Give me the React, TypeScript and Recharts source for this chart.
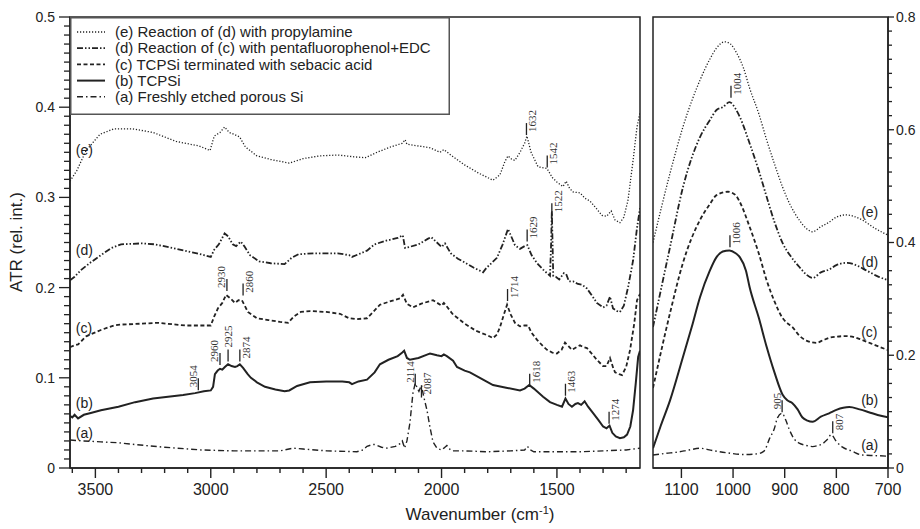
import { LineChart, Line, XAxis, YAxis, ReferenceArea, ReferenceDot } from 'recharts';

type Pt = [number, number];

// wavenumber (cm-1), ATR — left window
const leftE: Pt[] = [
  [3610, 0.318], [3580, 0.33], [3540, 0.352], [3480, 0.37], [3420, 0.376], [3340, 0.376], [3250, 0.372],
  [3150, 0.362], [3050, 0.357], [3003, 0.352], [2985, 0.368], [2960, 0.372], [2940, 0.378], [2920, 0.372],
  [2900, 0.37], [2875, 0.367], [2850, 0.356], [2800, 0.346], [2740, 0.342], [2660, 0.338], [2600, 0.343],
  [2530, 0.346], [2450, 0.347], [2380, 0.345], [2330, 0.344], [2280, 0.35], [2220, 0.356], [2170, 0.36],
  [2158, 0.364], [2150, 0.359], [2100, 0.357], [2050, 0.355], [2007, 0.35], [1990, 0.353], [1960, 0.347],
  [1900, 0.336], [1840, 0.327], [1777, 0.319], [1747, 0.325], [1725, 0.34], [1712, 0.346], [1695, 0.342],
  [1682, 0.341], [1660, 0.35], [1640, 0.36], [1630, 0.368], [1612, 0.35], [1595, 0.341], [1582, 0.334],
  [1543, 0.332], [1520, 0.322], [1500, 0.317], [1474, 0.312], [1460, 0.318], [1445, 0.31], [1430, 0.306],
  [1400, 0.305], [1378, 0.299], [1357, 0.296], [1330, 0.288], [1305, 0.28], [1285, 0.279], [1265, 0.285],
  [1248, 0.275], [1227, 0.272], [1210, 0.278], [1192, 0.297], [1170, 0.341], [1153, 0.378], [1140, 0.394],
];

const leftD: Pt[] = [
  [3610, 0.208], [3590, 0.212], [3560, 0.22], [3520, 0.228], [3476, 0.236], [3430, 0.244], [3389, 0.248],
  [3300, 0.249], [3242, 0.248], [3150, 0.243], [3060, 0.238], [3000, 0.234], [2985, 0.242], [2965, 0.248],
  [2940, 0.26], [2925, 0.257], [2905, 0.248], [2890, 0.246], [2870, 0.251], [2855, 0.246], [2830, 0.236],
  [2790, 0.229], [2740, 0.227], [2680, 0.226], [2650, 0.233], [2620, 0.237], [2550, 0.238], [2450, 0.238],
  [2400, 0.236], [2388, 0.234], [2350, 0.238], [2323, 0.241], [2290, 0.248], [2240, 0.252], [2190, 0.255],
  [2168, 0.258], [2158, 0.244], [2140, 0.245], [2100, 0.248], [2060, 0.254], [2045, 0.256], [2020, 0.25],
  [2000, 0.245], [1985, 0.249], [1960, 0.238], [1929, 0.232], [1900, 0.228], [1860, 0.222], [1820, 0.217],
  [1805, 0.222], [1780, 0.228], [1760, 0.233], [1735, 0.248], [1712, 0.265], [1695, 0.255], [1682, 0.247],
  [1660, 0.243], [1640, 0.246], [1628, 0.247], [1610, 0.236], [1586, 0.227], [1560, 0.22], [1543, 0.216],
  [1530, 0.213], [1525, 0.25], [1522, 0.285], [1519, 0.25], [1516, 0.213], [1505, 0.212], [1490, 0.209],
  [1470, 0.216], [1460, 0.215], [1448, 0.207], [1430, 0.207], [1409, 0.204], [1390, 0.203], [1370, 0.199],
  [1345, 0.19], [1327, 0.183], [1300, 0.178], [1285, 0.18], [1270, 0.19], [1257, 0.177], [1240, 0.174],
  [1227, 0.173], [1210, 0.18], [1192, 0.2], [1170, 0.23], [1153, 0.266], [1140, 0.288],
];

const leftC: Pt[] = [
  [3610, 0.134], [3590, 0.136], [3575, 0.137], [3540, 0.146], [3476, 0.153], [3420, 0.158], [3389, 0.159],
  [3300, 0.16], [3229, 0.161], [3150, 0.159], [3112, 0.158], [3000, 0.158], [2985, 0.168], [2969, 0.177],
  [2950, 0.183], [2934, 0.192], [2915, 0.188], [2895, 0.183], [2880, 0.186], [2865, 0.186], [2839, 0.173],
  [2800, 0.166], [2750, 0.164], [2700, 0.162], [2665, 0.161], [2640, 0.168], [2610, 0.173], [2570, 0.174],
  [2500, 0.173], [2440, 0.171], [2400, 0.166], [2370, 0.165], [2323, 0.166], [2300, 0.172], [2267, 0.181],
  [2220, 0.185], [2180, 0.188], [2167, 0.192], [2150, 0.182], [2124, 0.178], [2090, 0.182], [2050, 0.185],
  [2037, 0.186], [2000, 0.18], [1990, 0.183], [1977, 0.179], [1950, 0.17], [1929, 0.166], [1900, 0.16],
  [1850, 0.152], [1800, 0.147], [1777, 0.144], [1760, 0.148], [1747, 0.156], [1730, 0.17], [1716, 0.181],
  [1700, 0.17], [1682, 0.161], [1660, 0.157], [1640, 0.158], [1625, 0.158], [1610, 0.15], [1586, 0.142],
  [1560, 0.135], [1543, 0.131], [1520, 0.128], [1500, 0.127], [1480, 0.131], [1465, 0.139], [1450, 0.135],
  [1435, 0.131], [1415, 0.134], [1400, 0.136], [1385, 0.134], [1370, 0.133], [1350, 0.127], [1327, 0.12],
  [1300, 0.113], [1285, 0.113], [1270, 0.122], [1255, 0.11], [1248, 0.106], [1230, 0.104], [1218, 0.103],
  [1200, 0.112], [1183, 0.131], [1165, 0.16], [1153, 0.186], [1140, 0.193],
];

const leftB: Pt[] = [
  [3610, 0.058], [3600, 0.056], [3590, 0.059], [3575, 0.055], [3550, 0.059], [3520, 0.061], [3476, 0.064],
  [3400, 0.068], [3328, 0.073], [3250, 0.077], [3185, 0.079], [3120, 0.081], [3068, 0.083], [3030, 0.085],
  [3000, 0.086], [2990, 0.09], [2982, 0.104], [2970, 0.108], [2960, 0.11], [2950, 0.109], [2939, 0.112],
  [2925, 0.115], [2910, 0.113], [2895, 0.112], [2885, 0.113], [2874, 0.115], [2860, 0.111], [2840, 0.104],
  [2826, 0.1], [2800, 0.095], [2765, 0.09], [2720, 0.087], [2680, 0.085], [2660, 0.086], [2626, 0.091],
  [2570, 0.095], [2500, 0.096], [2430, 0.096], [2400, 0.095], [2388, 0.093], [2360, 0.096], [2323, 0.098],
  [2290, 0.106], [2267, 0.115], [2230, 0.12], [2190, 0.124], [2170, 0.128], [2162, 0.13], [2150, 0.122],
  [2137, 0.12], [2100, 0.122], [2060, 0.126], [2050, 0.127], [2020, 0.125], [2000, 0.124], [1990, 0.126],
  [1977, 0.124], [1950, 0.119], [1933, 0.112], [1900, 0.108], [1877, 0.106], [1820, 0.098], [1777, 0.092],
  [1720, 0.089], [1660, 0.086], [1640, 0.088], [1620, 0.092], [1600, 0.088], [1560, 0.079], [1530, 0.073],
  [1500, 0.07], [1478, 0.068], [1463, 0.077], [1450, 0.071], [1435, 0.068], [1420, 0.071], [1409, 0.072],
  [1395, 0.07], [1380, 0.074], [1365, 0.068], [1344, 0.061], [1320, 0.053], [1300, 0.046], [1285, 0.044],
  [1272, 0.047], [1260, 0.039], [1245, 0.035], [1227, 0.033], [1210, 0.034], [1196, 0.037], [1182, 0.046],
  [1170, 0.064], [1158, 0.095], [1148, 0.123], [1140, 0.13],
];

const leftA: Pt[] = [
  [3610, 0.031], [3550, 0.03], [3476, 0.029], [3400, 0.028], [3328, 0.026], [3200, 0.023], [3042, 0.02],
  [2900, 0.019], [2787, 0.019], [2700, 0.019], [2643, 0.022], [2600, 0.021], [2497, 0.019], [2367, 0.018],
  [2340, 0.02], [2323, 0.024], [2300, 0.026], [2288, 0.026], [2260, 0.023], [2236, 0.022], [2200, 0.024],
  [2180, 0.027], [2170, 0.03], [2160, 0.022], [2150, 0.03], [2137, 0.05], [2124, 0.083], [2114, 0.094],
  [2104, 0.088], [2098, 0.085], [2087, 0.092], [2078, 0.08], [2063, 0.064], [2050, 0.045], [2037, 0.029],
  [2020, 0.022], [2000, 0.02], [1990, 0.022], [1977, 0.025], [1965, 0.021], [1955, 0.019], [1900, 0.019],
  [1800, 0.018], [1700, 0.019], [1640, 0.02], [1628, 0.024], [1615, 0.02], [1600, 0.018], [1500, 0.018],
  [1400, 0.018], [1300, 0.019], [1200, 0.02], [1140, 0.022],
];

// right window
const rightE: Pt[] = [
  [1155, 0.4], [1122, 0.523], [1097, 0.605], [1064, 0.688], [1045, 0.725], [1032, 0.745], [1016, 0.756],
  [1005, 0.752], [993, 0.736], [980, 0.71], [968, 0.674], [950, 0.628], [935, 0.582], [920, 0.54],
  [904, 0.498], [890, 0.468], [872, 0.44], [858, 0.425], [846, 0.419], [830, 0.428], [814, 0.436],
  [800, 0.445], [781, 0.449], [765, 0.446], [750, 0.44], [725, 0.425], [700, 0.413],
];
const rightD: Pt[] = [
  [1155, 0.25], [1122, 0.392], [1097, 0.498], [1064, 0.587], [1045, 0.617], [1032, 0.635], [1020, 0.64],
  [1007, 0.649], [995, 0.637], [987, 0.623], [968, 0.576], [950, 0.527], [935, 0.481], [920, 0.437],
  [904, 0.399], [888, 0.375], [872, 0.357], [858, 0.343], [846, 0.337], [830, 0.347], [814, 0.352],
  [800, 0.36], [779, 0.364], [760, 0.359], [743, 0.351], [720, 0.34], [700, 0.333],
];
const rightC: Pt[] = [
  [1155, 0.142], [1122, 0.275], [1097, 0.364], [1064, 0.44], [1045, 0.468], [1032, 0.484], [1010, 0.49],
  [995, 0.484], [987, 0.472], [968, 0.428], [950, 0.38], [935, 0.333], [920, 0.296], [904, 0.266],
  [895, 0.257], [885, 0.25], [872, 0.235], [858, 0.226], [839, 0.222], [825, 0.227], [814, 0.231],
  [800, 0.233], [781, 0.234], [765, 0.232], [750, 0.227], [725, 0.218], [700, 0.209],
];
const rightB: Pt[] = [
  [1155, 0.035], [1140, 0.075], [1122, 0.12], [1097, 0.197], [1080, 0.25], [1064, 0.303], [1045, 0.35],
  [1032, 0.374], [1020, 0.384], [1007, 0.386], [995, 0.381], [987, 0.374], [975, 0.35], [968, 0.321],
  [950, 0.266], [935, 0.215], [920, 0.17], [904, 0.13], [895, 0.12], [885, 0.115], [875, 0.104],
  [866, 0.09], [856, 0.084], [846, 0.082], [830, 0.091], [814, 0.097], [800, 0.103], [775, 0.108],
  [755, 0.104], [737, 0.099], [720, 0.094], [700, 0.09],
];
const rightA: Pt[] = [
  [1155, 0.023], [1130, 0.026], [1109, 0.028], [1085, 0.032], [1064, 0.035], [1040, 0.031], [1012, 0.027],
  [980, 0.024], [954, 0.025], [940, 0.03], [929, 0.053], [920, 0.07], [914, 0.089], [905, 0.097],
  [898, 0.085], [891, 0.068], [882, 0.052], [872, 0.044], [858, 0.04], [846, 0.038], [835, 0.04],
  [827, 0.043], [818, 0.05], [810, 0.059], [800, 0.047], [788, 0.037], [770, 0.03], [750, 0.023],
  [725, 0.022], [700, 0.021],
];

// peak annotations: label, wavenumber, ATR at foot of tick, text side
const leftPeaks: [string, number, number, string][] = [
  ['3054', 3054, 0.085, 'l'], ['2960', 2960, 0.113, 'l'], ['2925', 2925, 0.117, 'c'], ['2874', 2874, 0.117, 'r'],
  ['2930', 2930, 0.195, 'l'], ['2860', 2860, 0.19, 'r'], ['2114', 2114, 0.09, 'l'], ['2087', 2087, 0.077, 'r'],
  ['1714', 1714, 0.184, 'r'], ['1618', 1618, 0.09, 'r'], ['1463', 1463, 0.079, 'r'], ['1274', 1274, 0.048, 'r'],
  ['1632', 1632, 0.368, 'r'], ['1542', 1542, 0.332, 'r'], ['1522', 1522, 0.279, 'r'], ['1629', 1629, 0.25, 'r'],
];
const rightPeaks: [string, number, number, string][] = [
  ['1004', 1004, 0.655, 'r'], ['1006', 1006, 0.39, 'r'], ['905', 905, 0.097, 'l'], ['807', 807, 0.06, 'r'],
];

// curve tags (a)..(e): y position in each window
const leftTagWn = 3585;
const leftTagY = { e: 0.3525, d: 0.242, c: 0.155, b: 0.072, a: 0.039 };
const rightTagWn = 752;
const rightTagY = { e: 0.454, d: 0.365, c: 0.241, b: 0.121, a: 0.041 };

const leftWnTicks = [3600, 3500, 3400, 3300, 3200, 3100, 3000, 2900, 2800, 2700, 2600, 2500, 2400, 2300, 2200, 2100, 2000, 1900, 1800, 1700, 1600, 1500, 1400, 1300, 1200];
const leftWnLabels = [3500, 3000, 2500, 2000, 1500];
const rightWnTicks = [1100, 1000, 900, 800, 700];
const leftAtrTicks = Array.from({ length: 51 }, (_, i) => i / 100);
const leftAtrLabels = [0, 0.1, 0.2, 0.3, 0.4, 0.5];
const rightAtrTicks = Array.from({ length: 33 }, (_, i) => (i * 25) / 1000);
const rightAtrLabels = [0, 0.2, 0.4, 0.6, 0.8];

const FONT = '"Liberation Sans", Arial, sans-serif';
const SERIF = '"Liberation Serif", "Times New Roman", serif';
const INK = '#222';

const SERIES = [
  { id: 'e', name: '(e) Reaction of (d) with propylamine', dash: '1.2 1.8', width: 1.3, left: leftE, right: rightE },
  { id: 'd', name: '(d) Reaction of (c) with pentafluorophenol+EDC', dash: '6 2 1.5 2 1.5 2', width: 1.8, left: leftD, right: rightD },
  { id: 'c', name: '(c) TCPSi terminated with sebacic acid', dash: '4 2.5', width: 1.8, left: leftC, right: rightC },
  { id: 'b', name: '(b) TCPSi', dash: undefined, width: 2, left: leftB, right: rightB },
  { id: 'a', name: '(a) Freshly etched porous Si', dash: '6 3 1.5 3', width: 1.4, left: leftA, right: rightA },
];

const rows = (pts: Pt[]) => pts.map(([wn, v]) => ({ wn, v }));
const fmt = (v: number) => (v === 0 ? '0' : v.toFixed(1));
const isMajor = (v: number, per: number) => Math.abs(v * per - Math.round(v * per)) < 1e-6;

function XLabel(props: any) {
  return (
    <text x={props.x} y={Number(props.y) + 27} textAnchor="middle" fontSize={16} fontFamily={FONT} fill={INK}>
      {props.payload.value}
    </text>
  );
}
function YLabelLeft(props: any) {
  return (
    <text x={Number(props.x) - 15} y={props.y} dy="0.35em" textAnchor="end" fontSize={14} fontFamily={FONT} fill={INK}>
      {fmt(props.payload.value)}
    </text>
  );
}
function YLabelRight(props: any) {
  return (
    <text x={Number(props.x) + 8} y={props.y} dy="0.35em" textAnchor="start" fontSize={14} fontFamily={FONT} fill={INK}>
      {fmt(props.payload.value)}
    </text>
  );
}

// tick marks, hung from their scale position (same mechanism as the legend box)
const downMark = (len: number) => (p: any) => (
  <rect x={p.cx - 0.7} y={p.cy} width={1.4} height={len} fill={INK} />
);
const leftMark = (len: number) => (p: any) => (
  <rect x={p.cx - len} y={p.cy - 0.65} width={len} height={1.3} fill={INK} />
);
const rightMark = (len: number) => (p: any) => (
  <rect x={p.cx} y={p.cy - 0.65} width={len} height={1.3} fill={INK} />
);

const peakShape = (label: string, side: string) => (p: any) => {
  const { cx, cy } = p;
  const tx = side === 'r' ? cx + 10 : side === 'l' ? cx - 1.5 : cx + 4;
  const ty = side === 'c' ? cy - 15 : cy - 4;
  return (
    <g>
      <line x1={cx} y1={cy - 1} x2={cx} y2={cy - 13} stroke={INK} strokeWidth={1.3} />
      <text x={tx} y={ty} transform={`rotate(-90 ${tx} ${ty})`} fontSize={11} fontFamily={SERIF} fill="#333">
        {label}
      </text>
    </g>
  );
};

const tagShape = (label: string) => (p: any) => (
  <text x={p.cx} y={p.cy} dy="0.35em" fontSize={14} fontFamily={FONT} fill={INK}>{label}</text>
);

// legend box hung from the top-left corner of the left window
const legendShape = (p: any) => (
  <g transform={`translate(${p.cx},${p.cy})`}>
    <rect x={0.75} y={0.75} width={378.5} height={96.5} fill="#fff" stroke="#555" strokeWidth={1.5} />
    {SERIES.map((s, i) => (
      <g key={s.id}>
        <line x1={7} x2={35} y1={15 + i * 16.2} y2={15 + i * 16.2} stroke={INK} strokeWidth={s.width} strokeDasharray={s.dash} />
        <text x={45} y={15 + i * 16.2} dy="0.35em" fontSize={15} fontFamily={FONT} fill={INK}>{s.name}</text>
      </g>
    ))}
  </g>
);

export default function App() {
  return (
    <div style={{ position: 'absolute', left: 0, top: 0, width: 920, height: 529, background: '#fff' }}>
      <div style={{ position: 'absolute', left: 0, top: 0 }}>
        <LineChart width={650} height={529} margin={{ top: 17, right: 10, bottom: 0, left: 0 }}>
          <XAxis
            type="number" dataKey="wn" domain={[1140, 3610]} reversed allowDataOverflow
            ticks={leftWnLabels} interval={0} tickSize={0} tickMargin={0} tickLine={false}
            tick={<XLabel />} height={61} stroke={INK} strokeWidth={1.5}
            label={() => (
              <text x={480} y={520} textAnchor="middle" fontSize={17} fontFamily={FONT} fill={INK}>
                Wavenumber (cm<tspan dy={-6} fontSize={11}>-1</tspan><tspan dy={6}>)</tspan>
              </text>
            )}
          />
          <YAxis
            type="number" domain={[0, 0.5]} allowDataOverflow ticks={leftAtrLabels} interval={0}
            tickSize={0} tickMargin={0} tickLine={false} tick={<YLabelLeft />} width={70}
            stroke={INK} strokeWidth={1.5}
            label={() => (
              <text x={22} y={242} transform="rotate(-90 22 242)" textAnchor="middle" fontSize={17} fontFamily={FONT} fill={INK}>
                ATR (rel. int.)
              </text>
            )}
          />
          <ReferenceArea x1={1140} x2={3610} y1={0} y2={0.5} fill="none" stroke={INK} strokeWidth={1.5} />
          {SERIES.map((s) => (
            <Line
              key={s.id} data={rows(s.left)} dataKey="v" name={s.name} type="linear" dot={false}
              stroke={INK} strokeWidth={s.width} strokeDasharray={s.dash} isAnimationActive={false}
            />
          ))}
          {leftWnTicks.map((t) => (
            <ReferenceDot key={'xt' + t} x={t} y={0} r={0} ifOverflow="visible"
              shape={downMark(t % 500 === 0 ? 10 : 5)} />
          ))}
          {leftAtrTicks.map((t) => (
            <ReferenceDot key={'yt' + t} x={3610} y={t} r={0} ifOverflow="visible"
              shape={leftMark(isMajor(t, 10) ? 11 : 6)} />
          ))}
          {leftPeaks.map(([t, wn, v, side]) => (
            <ReferenceDot key={'p' + t} x={wn} y={v} r={0} shape={peakShape(t, side)} />
          ))}
          {SERIES.map((s) => (
            <ReferenceDot key={'t' + s.id} x={leftTagWn} y={(leftTagY as any)[s.id]} r={0} shape={tagShape(`(${s.id})`)} />
          ))}
          <ReferenceDot x={3610} y={0.5} r={0} ifOverflow="visible" shape={legendShape} />
        </LineChart>
      </div>
      <div style={{ position: 'absolute', left: 645, top: 0 }}>
        <LineChart width={275} height={529} margin={{ top: 17, right: 0, bottom: 0, left: 8 }}>
          <XAxis
            type="number" dataKey="wn" domain={[700, 1155]} reversed allowDataOverflow
            ticks={rightWnTicks} interval={0} tickSize={0} tickMargin={0} tickLine={false}
            tick={<XLabel />} height={61} stroke={INK} strokeWidth={1.5}
          />
          <YAxis
            type="number" orientation="right" domain={[0, 0.8]} allowDataOverflow ticks={rightAtrLabels}
            interval={0} tickSize={0} tickMargin={0} tickLine={false} tick={<YLabelRight />} width={32}
            stroke={INK} strokeWidth={1.5}
          />
          <ReferenceArea x1={700} x2={1155} y1={0} y2={0.8} fill="none" stroke={INK} strokeWidth={1.5} />
          {SERIES.map((s) => (
            <Line
              key={s.id} data={rows(s.right)} dataKey="v" name={s.name} type="monotone" dot={false}
              stroke={INK} strokeWidth={s.width} strokeDasharray={s.dash} isAnimationActive={false}
            />
          ))}
          {rightWnTicks.map((t) => (
            <ReferenceDot key={'xt' + t} x={t} y={0} r={0} ifOverflow="visible" shape={downMark(10)} />
          ))}
          {rightAtrTicks.map((t) => (
            <ReferenceDot key={'yt' + t} x={700} y={t} r={0} ifOverflow="visible"
              shape={rightMark(isMajor(t, 5) ? 6 : 4)} />
          ))}
          {rightPeaks.map(([t, wn, v, side]) => (
            <ReferenceDot key={'p' + t} x={wn} y={v} r={0} shape={peakShape(t, side)} />
          ))}
          {SERIES.map((s) => (
            <ReferenceDot key={'t' + s.id} x={rightTagWn} y={(rightTagY as any)[s.id]} r={0} shape={tagShape(`(${s.id})`)} />
          ))}
        </LineChart>
      </div>
    </div>
  );
}
